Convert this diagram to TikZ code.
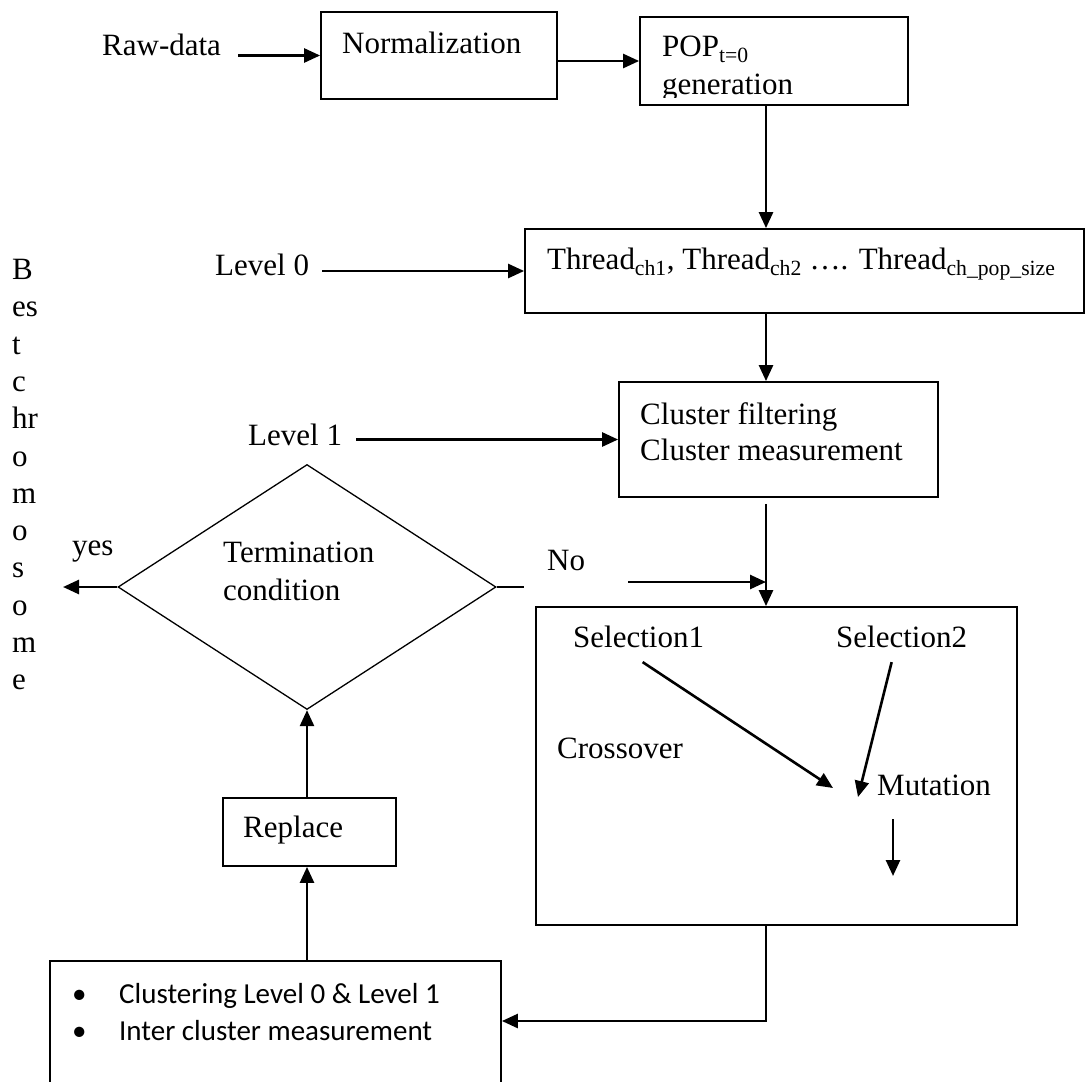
\documentclass[tikz,border=0pt]{standalone}
\usepackage{fontspec}
\setmainfont{Liberation Serif}
\newfontfamily\bulletfont{Carlito}
\usetikzlibrary{arrows.meta,shapes.geometric,positioning,calc}

\newcommand\bodysize{\fontsize{31}{36}\selectfont}

\begin{document}
\begin{tikzpicture}[
  x=1pt, y=-1pt,
  box/.style={rectangle, draw=black, line width=1.8pt, inner sep=0pt},
  decision/.style={diamond, draw=black, line width=1.3pt, inner sep=0pt},
  txt/.style={font=\bodysize, inner sep=0pt, anchor=west},
  arr/.style={-{Triangle[length=16pt,width=14pt]}, line width=2.6pt},
  ln/.style={line width=2.6pt}
]
\path[use as bounding box] (0,0) rectangle (1086,1081);
\clip (0,0) rectangle (1086,1081);

% boxes
\node[box, minimum width=236pt, minimum height=87pt] (norm) at (439,55.5) {};
\node[box, minimum width=268pt, minimum height=88pt] (pop) at (774,61) {};
\node[box, minimum width=559pt, minimum height=84pt] (thread) at (804.5,271) {};
\node[box, minimum width=319pt, minimum height=115pt] (cluster) at (778.5,439.5) {};
\node[decision, minimum width=378pt, minimum height=245pt] (cond) at (307,587) {};
\node[box, minimum width=481pt, minimum height=318pt] (sel) at (776.5,766) {};
\node[box, minimum width=173pt, minimum height=68pt] (repl) at (309.5,832) {};
\node[box, minimum width=451pt, minimum height=139pt] (bottom) at (275.5,1030.5) {};

% texts
\node[txt] (raw) at (102,45) {Raw-data};
\node[txt] (normtxt) at (342,43) {Normalization};
\node[txt] (poptxt) at (662,49) {POP\textsubscript{t=0}};
\begin{scope}
  \clip (640,17) rectangle (908,97);
  \node[txt] (gentxt) at (662,88) {generation};
\end{scope}
\node[txt] (threadtxt) at (547,264) {Thread\textsubscript{ch1}, Thread\textsubscript{ch2} …. Thread\textsubscript{ch\_pop\_size}};
\node[txt] (level0) at (215,265) {Level 0};
\node[txt, align=left] (clustertxt) at (640,432) {Cluster filtering\\Cluster measurement};
\node[txt] (level1) at (248,435) {Level 1};
\node[txt, align=left, font=\fontsize{31}{38}\selectfont] (termtxt) at (223,571) {Termination\\condition};
\node[txt] (yes) at (72,552) {yes};
\node[txt] (no) at (547,560) {No};
\node[txt] (sel1) at (573,637) {Selection1};
\node[txt] (sel2) at (836,637) {Selection2};
\node[txt] (cross) at (557,748) {Crossover};
\node[txt] (mut) at (877,785) {Mutation};
\node[txt] (repltxt) at (243,830) {Replace};
\node[txt, align=left, font=\bulletfont\fontsize{29}{37}\selectfont] (bullets) at (72,1012)
  {\makebox[47pt][l]{\textbullet}Clustering Level 0 \& Level 1\\\makebox[47pt][l]{\textbullet}Inter cluster measurement};
\node[txt, anchor=north west, align=left, font=\fontsize{31}{37.3}\selectfont] (bestchrom) at (12,259)
  {B\\es\\t\\c\\hr\\o\\m\\o\\s\\o\\m\\e};

% connectors
\coordinate (spine) at (766,0);
\draw[arr] ([xshift=17pt]raw.east |- norm.west) -- (norm.west);
\draw[arr] (norm.east |- pop.west) -- (pop.west);
\draw[arr] (pop.south -| spine) -- (thread.north -| spine);
\draw[arr] ([xshift=13pt]level0.east |- thread.west) -- (thread.west);
\draw[arr] (thread.south -| spine) -- (cluster.north -| spine);
\draw[arr] ([xshift=14pt]level1.east |- cluster.west) -- (cluster.west);
\draw[arr] ([yshift=-6pt]cluster.south -| spine) -- (sel.north -| spine);

\coordinate (yesend) at (63,587);
\draw[arr] (cond.west) -- (yesend);
\coordinate (nogapa) at (524,0);
\coordinate (nogapb) at (628,582);
\draw[ln] (cond.east) -- (cond.east -| nogapa);
\draw[arr] (nogapb) -- (nogapb -| spine);

\draw[arr] (repl.north -| cond.south) -- (cond.south);
\draw[arr] (bottom.north -| cond.south) -- (repl.south -| cond.south);
\coordinate (turn) at (766,1021);
\draw[arr] (sel.south -| turn) -- (turn) -- (turn -| bottom.east);

% inside the selection box
\draw[arr] ([xshift=4pt,yshift=-14pt]sel1.south) -- ([xshift=-44pt,yshift=-3pt]mut.west);
\draw[arr] ([xshift=-10pt,yshift=-14pt]sel2.south) -- ([xshift=-19pt,yshift=-12pt]mut.west);
\coordinate (mutstart) at (893,819);
\coordinate (mutend) at (893,876);
\draw[arr] (mutstart) -- (mutend);

\end{tikzpicture}
\end{document}
